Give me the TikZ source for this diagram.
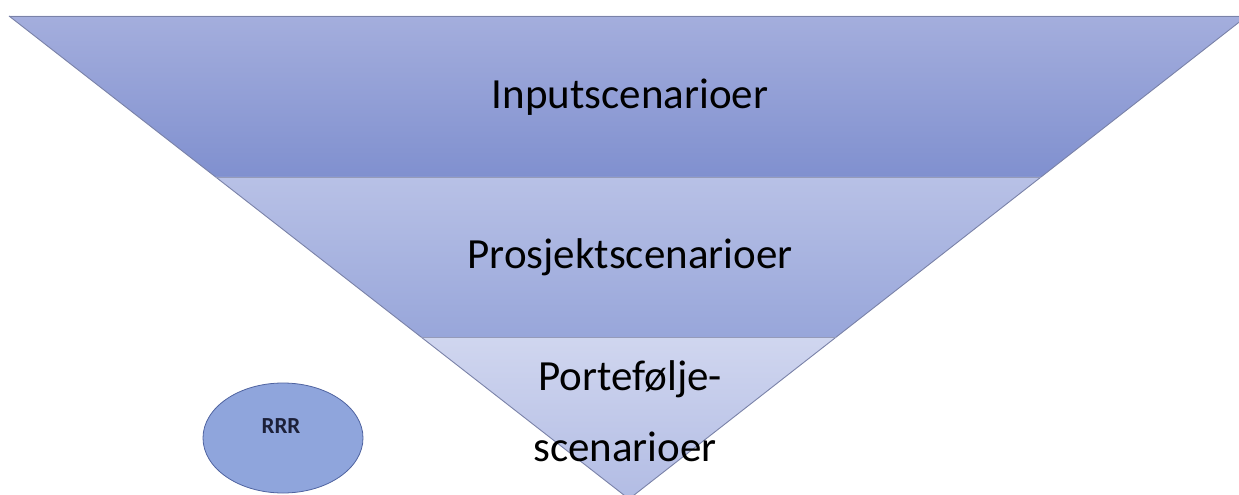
\documentclass[tikz,border=0pt]{standalone}
\usepackage{fontspec}
\usetikzlibrary{shapes.geometric,calc}
\setmainfont{Carlito}
\definecolor{bandAtop}{HTML}{A4AEDD}
\definecolor{bandAbot}{HTML}{8090CF}
\definecolor{bandBtop}{HTML}{B8C1E6}
\definecolor{bandBbot}{HTML}{98A6DA}
\definecolor{bandCtop}{HTML}{D0D6EF}
\definecolor{bandCbot}{HTML}{B2BCE4}
\definecolor{edgecol}{HTML}{7A82A8}
\definecolor{circfill}{HTML}{8FA5DC}
\definecolor{circline}{HTML}{4F63A0}
\definecolor{rrrtext}{HTML}{1C2038}
\tikzset{
  bigtext/.style={font=\fontsize{43}{52}\selectfont, text=black, inner sep=0pt},
  edge/.style={draw=edgecol, line width=0.9pt},
}
\begin{document}
\begin{tikzpicture}[x=1pt, y=-1pt]
\useasboundingbox (0,0) rectangle (1239,495);
\clip (0,0) rectangle (1239,495);
% corner coordinates
\coordinate (tl) at (9,16);
\coordinate (tr) at (1247,16);
\coordinate (apex) at (629,499);
\coordinate (l1) at ($(tl)!0.3333!(apex)$);
\coordinate (r1) at ($(tr)!0.3333!(apex)$);
\coordinate (l2) at ($(tl)!0.6646!(apex)$);
\coordinate (r2) at ($(tr)!0.6646!(apex)$);
% bands
\shade[top color=bandAtop, bottom color=bandAbot] (tl) -- (tr) -- (r1) -- (l1) -- cycle;
\shade[top color=bandBtop, bottom color=bandBbot] (l1) -- (r1) -- (r2) -- (l2) -- cycle;
\shade[top color=bandCtop, bottom color=bandCbot] (l2) -- (r2) -- (apex) -- cycle;
% edges
\draw[edge] (tl) -- (tr);
\draw[edge] (tl) -- (apex) -- (tr);
\draw[draw=edgecol!80!white, line width=0.6pt] (l1) -- (r1);
\draw[draw=edgecol!80!white, line width=0.6pt] (l2) -- (r2);
% labels
\node[bigtext] (inp) at (630,97) {Inputscenarioer};
\node[bigtext] (pro) at (630,257) {Prosjektscenarioer};
\node[bigtext, anchor=base] (por1) at (630,390) {Portefølje-};
\node[bigtext, anchor=base] (por2) at (625,461) {scenarioer};
% circle
\node[ellipse, draw=circline, fill=circfill, line width=0.8pt,
      minimum width=160pt, minimum height=110pt, inner sep=0pt] (rrr) at (283,438) {};
\node[font=\fontsize{23}{27}\selectfont\bfseries, text=rrrtext, inner sep=0pt] (rrrlab) at (281,426) {RRR};
\end{tikzpicture}
\end{document}
